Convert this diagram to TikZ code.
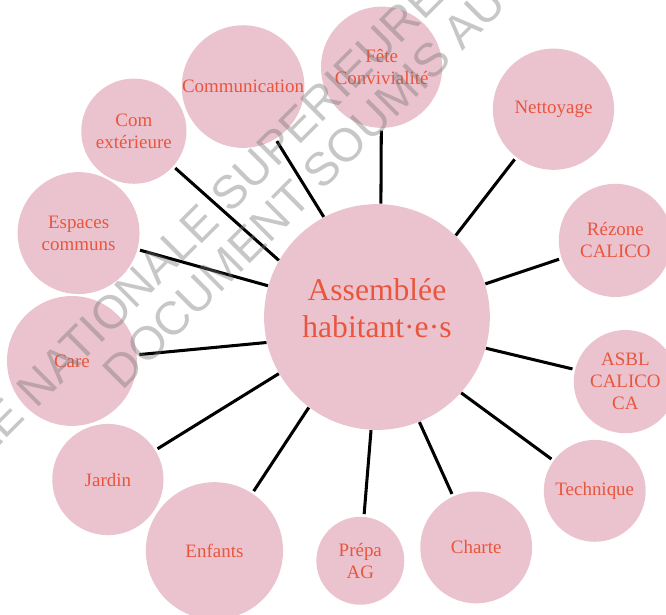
\documentclass[tikz,border=0pt]{standalone}
\usepackage{fontspec}
\setmainfont{Liberation Serif}
\newfontfamily\filigranefont{Liberation Sans}
\definecolor{rosebulle}{HTML}{EBC3CE}
\definecolor{rougetexte}{HTML}{E9553D}

\begin{document}
\begin{tikzpicture}[
		bulle/.style={circle, fill=rosebulle, inner sep=0pt, text=rougetexte, align=center, font=\fontsize{8.1}{9.4}\selectfont},
		lien/.style={line width=1.3pt, shorten >=1pt},
		filigrane/.style={rotate=45, anchor=base west, inner sep=0pt, text=black!55, opacity=0.4, font=\filigranefont\fontsize{20}{24}\selectfont}]
		\useasboundingbox (0,0) rectangle (10,9.22);
		\clip (0,0) rectangle (10,9.22);

		% Bulle centrale
		\node[bulle, minimum size=3.39cm] (asm) at (5.66,4.46) {};
		\node[text=rougetexte, align=center, font=\fontsize{13.5}{15.8}\selectfont] (asmtxt) at (5.66,4.6) {Assemblée\\habitant·e·s};

		% Bulles autour
		\node[bulle, minimum size=1.83cm] (comm) at (3.65,7.92) {Communication};
		\node[bulle, minimum size=1.58cm] (comext) at (2.01,7.25) {Com\\extérieure};
		\node[bulle, minimum size=1.83cm] (espaces) at (1.18,5.72) {Espaces\\communs};
		\node[bulle, minimum size=1.95cm] (care) at (1.08,3.80) {Care};
		\node[bulle, minimum size=1.67cm] (jardin) at (1.62,2.02) {Jardin};
		\node[bulle, minimum size=2.06cm] (enfants) at (3.22,0.95) {Enfants};
		\node[bulle, minimum size=1.32cm] (prepa) at (5.41,0.80) {Prépa\\AG};
		\node[bulle, minimum size=1.68cm] (charte) at (7.15,1.00) {Charte};
		\node[bulle, minimum size=1.53cm] (technique) at (8.93,1.85) {Technique};
		\node[bulle, minimum size=1.55cm] (asbl) at (9.39,3.49) {ASBL\\CALICO\\CA};
		\node[bulle, minimum size=1.70cm] (rezone) at (9.24,5.61) {Rézone\\CALICO};
		\node[bulle, minimum size=1.82cm] (nettoyage) at (8.31,7.58) {Nettoyage};
		\node[bulle, minimum size=1.82cm] (fete) at (5.73,8.21) {Fête\\Convivialité};

		% Liens
		\foreach \b/\a in {comm/118, comext/150, espaces/164, care/193, jardin/210, enfants/233, prepa/267, charte/292, technique/318, asbl/344, rezone/17, nettoyage/46, fete/88}
			\draw[lien] (asm.\a) -- (\b);

		% Filigrane
		\node[filigrane] (filig1) at (-1.284,1.246) {ECOLE NATIONALE SUPERIEURE D'ARCHITECTURE};
		\node[filigrane] (filig2) at (1.832,3.333) {DOCUMENT SOUMIS AU DROIT D'AUTEUR};
	\end{tikzpicture}
\end{document}
